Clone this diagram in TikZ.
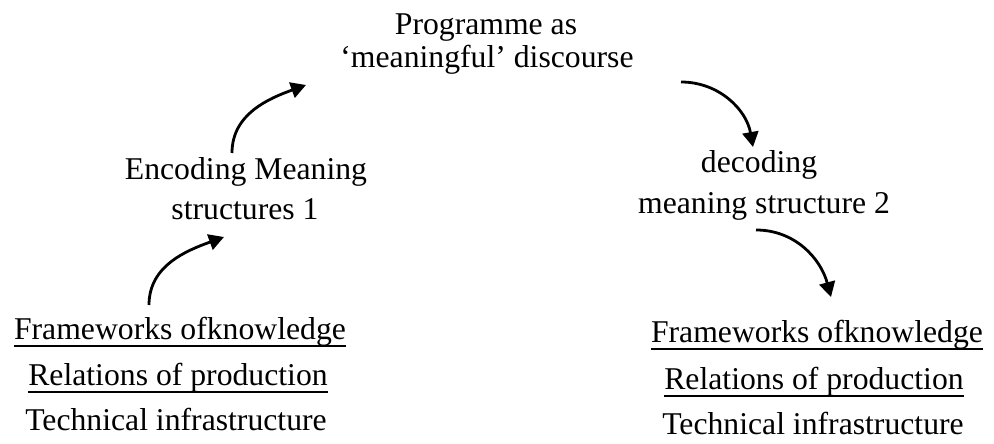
\documentclass[tikz,border=0pt]{standalone}
\usepackage{fontspec}
\setmainfont{Liberation Serif}
\usetikzlibrary{arrows.meta}
\newcommand\myul[1]{\setbox0\hbox{#1}\rlap{\raisebox{-7pt}{\rule{\wd0}{1.8pt}}}\box0}
\begin{document}
\begin{tikzpicture}[x=1pt,y=1pt,
  txt/.style={anchor=base,inner sep=0pt,font=\fontsize{31.7}{36}\selectfont},
  arr/.style={line width=2.8pt,-{Triangle[length=15pt,width=16pt]}}]
\useasboundingbox (0,0) rectangle (994,444);
% top
\node[txt] (prog1) at (486,409) {Programme as};
\node[txt] (prog2) at (487,376) {‘meaningful’ discourse};
% encoding
\node[txt] (enc1) at (246,264) {Encoding Meaning};
\node[txt] (enc2) at (245,224) {structures 1};
% decoding
\node[txt] (dec1) at (759,271) {decoding};
\node[txt] (dec2) at (764,230) {meaning structure 2};
% left bottom
\node[txt] (lf) at (180,104) {\myul{Frameworks ofknowledge}};
\node[txt] (lr) at (178,58) {\myul{Relations of production}};
\node[txt] (lt) at (176,13) {Technical infrastructure};
% right bottom
\node[txt] (rf) at (817,101) {\myul{Frameworks ofknowledge}};
\node[txt] (rr) at (814,54) {\myul{Relations of production}};
\node[txt] (rt) at (813,9) {Technical infrastructure};
% arrow ends
\coordinate (a1s) at (149,139);
\coordinate (a1e) at (224,207);
\coordinate (a2s) at (232,291);
\coordinate (a2e) at (306,359);
\coordinate (a3s) at (681,362);
\coordinate (a3e) at (753,297);
\coordinate (a4s) at (756,214);
\coordinate (a4e) at (831,147);
\draw[arr] (a1s) to[out=90,in=200] (a1e);
\draw[arr] (a2s) to[out=90,in=200] (a2e);
\draw[arr] (a3s) to[out=0,in=100] (a3e);
\draw[arr] (a4s) to[out=0,in=105] (a4e);
\end{tikzpicture}
\end{document}
